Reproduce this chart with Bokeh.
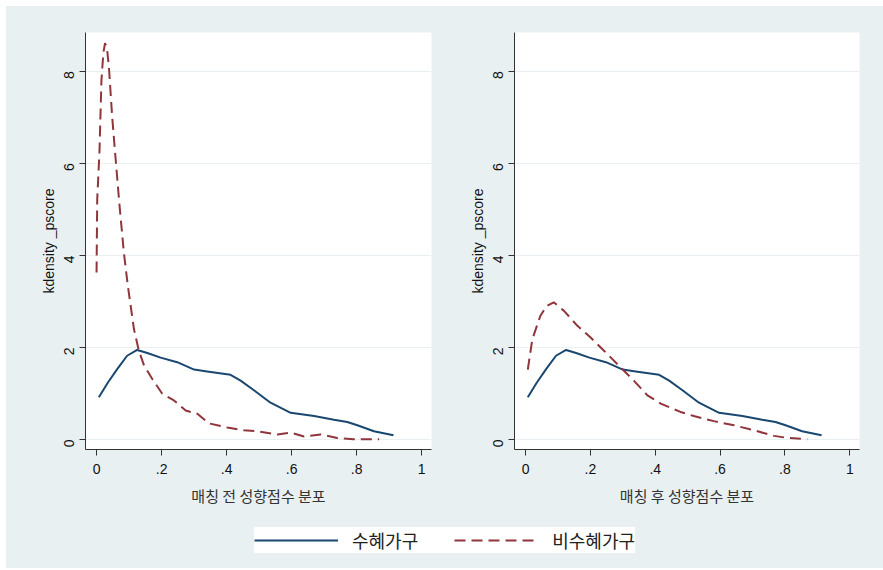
from bokeh.plotting import figure
from bokeh.models import FixedTicker, Legend, LegendItem, Range1d
from bokeh.layouts import column, row
from bokeh.embed import file_html
from bokeh.resources import INLINE
import math

# ---- data ----
x_ticks = [0, 0.2, 0.4, 0.6, 0.8, 1]
x_tick_labels = ["0", ".2", ".4", ".6", ".8", "1"]
y_ticks = [0, 2, 4, 6, 8]

series_names = ["수혜가구", "비수혜가구"]
x_titles = ["매칭 전 성향점수 분포", "매칭 후 성향점수 분포"]
y_title = "kdensity _pscore"

treated_x = [0.007, 0.035, 0.064, 0.094, 0.125, 0.156, 0.197, 0.248, 0.30, 0.34,
             0.412, 0.443, 0.484, 0.535, 0.597, 0.669, 0.73, 0.771, 0.802, 0.853, 0.913]
treated_y = [0.92, 1.24, 1.535, 1.82, 1.946, 1.88, 1.78, 1.68, 1.52, 1.48,
             1.405, 1.28, 1.07, 0.80, 0.58, 0.51, 0.43, 0.38, 0.31, 0.18, 0.093]

control_before_x = [0.0, 0.002, 0.009, 0.015, 0.021, 0.026, 0.032, 0.038, 0.048, 0.058,
                    0.069, 0.084, 0.096, 0.115, 0.130, 0.146, 0.171, 0.202, 0.238, 0.274,
                    0.31, 0.346, 0.402, 0.453, 0.494, 0.556, 0.597, 0.638, 0.689, 0.74,
                    0.79, 0.869]
control_before_y = [3.63, 5.21, 6.26, 7.8, 8.4, 8.61, 8.5, 8.09, 7.01, 6.15,
                    5.21, 4.06, 3.35, 2.40, 1.93, 1.61, 1.32, 0.995, 0.85, 0.63,
                    0.56, 0.35, 0.26, 0.20, 0.18, 0.11, 0.15, 0.065, 0.11, 0.035,
                    0.007, 0.007]

control_after_x = [0.007, 0.021, 0.046, 0.065, 0.087, 0.118, 0.16, 0.20, 0.242, 0.293,
                   0.334, 0.376, 0.417, 0.478, 0.519, 0.581, 0.643, 0.705, 0.766, 0.808, 0.869]
control_after_y = [1.52, 2.18, 2.69, 2.9, 2.98, 2.80, 2.47, 2.22, 1.93, 1.57,
                   1.28, 0.96, 0.78, 0.60, 0.51, 0.40, 0.31, 0.20, 0.08, 0.036, 0.007]

# ---- styles ----
BG = "#e8f0f2"
NAVY = "#1a476f"
MAROON = "#90353b"
AXIS = "#333333"
LATIN = "Liberation Sans"
HANGUL = "Noto Sans CJK KR"
DASH = "11 6"


def make_panel(width, left, right, xtitle, control_x, control_y):
    p = figure(width=width, height=502, output_backend="svg", toolbar_location=None,
               x_range=Range1d(-0.034, 1.03), y_range=Range1d(-0.216, 8.84),
               min_border_left=left, min_border_right=right,
               min_border_top=26, min_border_bottom=51)
    p.border_fill_color = BG
    p.background_fill_color = "white"
    p.outline_line_color = None

    p.line(treated_x, treated_y, line_color=NAVY, line_width=2)
    p.line(control_x, control_y, line_color=MAROON, line_width=2, line_dash=DASH)

    p.xgrid.visible = False
    p.ygrid.ticker = FixedTicker(ticks=y_ticks)
    p.ygrid.grid_line_color = BG
    p.ygrid.grid_line_width = 1

    xa = p.xaxis[0]
    xa.ticker = FixedTicker(ticks=x_ticks)
    xa.major_label_overrides = {t: l for t, l in zip(x_ticks, x_tick_labels)}
    xa.axis_label = xtitle
    xa.axis_label_text_font = HANGUL
    xa.axis_label_text_font_size = "15px"
    xa.axis_label_text_font_style = "normal"
    xa.axis_label_text_color = "#333333"
    xa.axis_label_standoff = 8
    xa.major_label_text_font = LATIN
    xa.major_label_text_font_size = "14px"
    xa.major_label_text_color = "#111111"
    xa.major_label_standoff = 8

    ya = p.yaxis[0]
    ya.ticker = FixedTicker(ticks=y_ticks)
    ya.axis_label = y_title
    ya.axis_label_text_font = LATIN
    ya.axis_label_text_font_size = "14px"
    ya.axis_label_text_font_style = "normal"
    ya.axis_label_text_color = "#111111"
    ya.axis_label_standoff = 0
    ya.major_label_orientation = math.pi / 2
    ya.major_label_text_font = LATIN
    ya.major_label_text_font_size = "14px"
    ya.major_label_text_color = "#111111"
    ya.major_label_standoff = 10

    for ax in (xa, ya):
        ax.axis_line_color = AXIS
        ax.major_tick_line_color = AXIS
        ax.major_tick_out = 6
        ax.major_tick_in = 0
        ax.minor_tick_line_color = None
    return p


p1 = make_panel(449, 79, 24, x_titles[0], control_before_x, control_before_y)
p2 = make_panel(428, 59, 24, x_titles[1], control_after_x, control_after_y)

# legend strip
pl = figure(width=877, height=60, output_backend="svg", toolbar_location=None,
            x_range=Range1d(0, 1), y_range=Range1d(0, 1),
            min_border_left=0, min_border_right=0, min_border_top=0, min_border_bottom=0)
pl.border_fill_color = BG
pl.background_fill_color = BG
pl.outline_line_color = None
pl.axis.visible = False
pl.grid.visible = False
r1 = pl.line([-10, -9], [-10, -9], line_color=NAVY, line_width=2)
r2 = pl.line([-10, -9], [-10, -9], line_color=MAROON, line_width=2, line_dash=DASH)
legend = Legend(items=[LegendItem(label=series_names[0], renderers=[r1]),
                       LegendItem(label=series_names[1], renderers=[r2])],
                orientation="horizontal", location=(248, 15), margin=0,
                padding=8, spacing=36, glyph_width=84, glyph_height=20,
                label_standoff=14, label_height=20,
                label_text_font=HANGUL, label_text_font_size="18px",
                label_text_color="#222222",
                background_fill_color="white", background_fill_alpha=1,
                border_line_color=None)
pl.add_layout(legend)

top = row(p1, p2, spacing=0, styles={"background-color": BG})
layout = column(top, pl, spacing=0, styles={"background-color": BG},
                margin=(6, 0, 0, 6))
open("out.html", "w").write(file_html(layout, INLINE))
